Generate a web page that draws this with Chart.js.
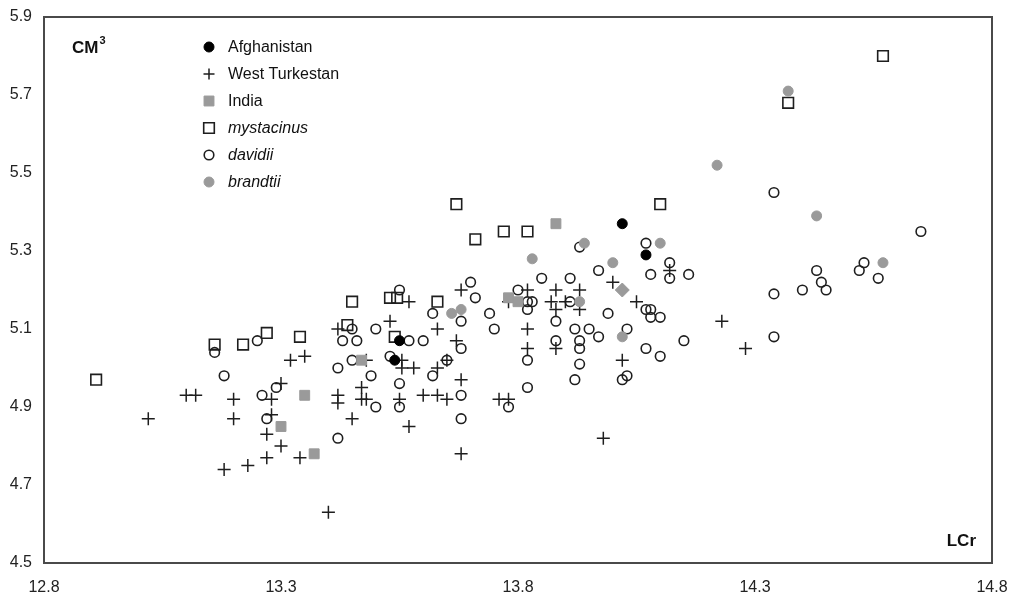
<!DOCTYPE html>
<html>
<head>
<meta charset="utf-8">
<script src="https://cdn.jsdelivr.net/npm/chart.js@4"></script>
<style>
  html, body { margin: 0; padding: 0; background: #fff; }
  #wrap { width: 1016px; height: 597px; }
</style>
</head>
<body>
<div id="wrap"><canvas id="cmChart" width="1016" height="597"></canvas></div>
<script>
// Trục
const xTicks = [12.8, 13.3, 13.8, 14.3, 14.8];
const yTicks = [4.5, 4.7, 4.9, 5.1, 5.3, 5.5, 5.7, 5.9];

// Afghanistan
const afghanX = [13.55, 13.54, 14.02, 14.07];
const afghanY = [5.07, 5.02, 5.37, 5.29];

// West Turkestan
const turkX = [13.02, 13.10, 13.12, 13.18, 13.20, 13.20, 13.23, 13.27, 13.27, 13.28,
  13.28, 13.30, 13.30, 13.32, 13.34, 13.35, 13.40, 13.42, 13.42, 13.42,
  13.45, 13.47, 13.47, 13.48, 13.48, 13.53, 13.555, 13.555, 13.55, 13.57,
  13.57, 13.58, 13.60, 13.63, 13.63, 13.63, 13.65, 13.65, 13.67, 13.68,
  13.68, 13.68, 13.76, 13.78, 13.78, 13.82, 13.82, 13.82, 13.87, 13.88,
  13.88, 13.88, 13.90, 13.93, 13.93, 13.98, 14.00, 14.02, 14.05, 14.12,
  14.23, 14.28];
const turkY = [4.87, 4.93, 4.93, 4.74, 4.92, 4.87, 4.75, 4.77, 4.83, 4.92,
  4.88, 4.80, 4.96, 5.02, 4.77, 5.03, 4.63, 5.10, 4.93, 4.91,
  4.87, 4.95, 4.92, 4.92, 5.02, 5.12, 5.02, 5.00, 4.92, 5.17,
  4.85, 5.00, 4.93, 4.93, 5.10, 5.00, 4.92, 5.02, 5.07, 5.20,
  4.97, 4.78, 4.92, 4.92, 5.17, 5.20, 5.10, 5.05, 5.17, 5.20,
  5.15, 5.05, 5.17, 5.20, 5.15, 4.82, 5.22, 5.02, 5.17, 5.25,
  5.12, 5.05];

// India (điểm cuối vẽ hình thoi)
const indiaX = [13.30, 13.35, 13.37, 13.47, 13.78, 13.80, 13.88, 14.02];
const indiaY = [4.85, 4.93, 4.78, 5.02, 5.18, 5.17, 5.37, 5.20];
const indiaStyle = ['rect', 'rect', 'rect', 'rect', 'rect', 'rect', 'rect', 'rectRot'];

// mystacinus
const mystX = [12.91, 13.16, 13.22, 13.27, 13.34, 13.44, 13.45, 13.53, 13.545, 13.54,
  13.63, 13.67, 13.71, 13.77, 13.82, 14.10, 14.37, 14.57];
const mystY = [4.97, 5.06, 5.06, 5.09, 5.08, 5.11, 5.17, 5.18, 5.18, 5.08,
  5.17, 5.42, 5.33, 5.35, 5.35, 5.42, 5.68, 5.80];

// davidii
const davX = [13.16, 13.18, 13.25, 13.26, 13.27, 13.29, 13.42, 13.42, 13.43, 13.45,
  13.45, 13.46, 13.49, 13.50, 13.50, 13.53, 13.55, 13.55, 13.55, 13.57,
  13.60, 13.62, 13.62, 13.65, 13.68, 13.68, 13.68, 13.68, 13.70, 13.71,
  13.74, 13.75, 13.78, 13.80, 13.82, 13.82, 13.82, 13.82, 13.83, 13.85,
  13.88, 13.88, 13.91, 13.91, 13.92, 13.92, 13.93, 13.93, 13.93, 13.93,
  13.95, 13.97, 13.97, 13.99, 14.02, 14.03, 14.03, 14.07, 14.07, 14.07,
  14.08, 14.08, 14.08, 14.10, 14.10, 14.12, 14.12, 14.15, 14.16, 14.34,
  14.34, 14.34, 14.40, 14.43, 14.44, 14.45, 14.52, 14.53, 14.56, 14.65];
const davY = [5.04, 4.98, 5.07, 4.93, 4.87, 4.95, 5.00, 4.82, 5.07, 5.10,
  5.02, 5.07, 4.98, 5.10, 4.90, 5.03, 5.20, 4.96, 4.90, 5.07,
  5.07, 5.14, 4.98, 5.02, 5.12, 5.05, 4.93, 4.87, 5.22, 5.18,
  5.14, 5.10, 4.90, 5.20, 5.17, 5.15, 5.02, 4.95, 5.17, 5.23,
  5.12, 5.07, 5.23, 5.17, 5.10, 4.97, 5.31, 5.07, 5.05, 5.01,
  5.10, 5.25, 5.08, 5.14, 4.97, 5.10, 4.98, 5.32, 5.15, 5.05,
  5.24, 5.15, 5.13, 5.13, 5.03, 5.27, 5.23, 5.07, 5.24, 5.45,
  5.19, 5.08, 5.20, 5.25, 5.22, 5.20, 5.25, 5.27, 5.23, 5.35];

// brandtii
const brandX = [13.66, 13.68, 13.83, 13.93, 13.94, 14.00, 14.02, 14.10, 14.22, 14.37, 14.43, 14.57];
const brandY = [5.14, 5.15, 5.28, 5.17, 5.32, 5.27, 5.08, 5.32, 5.52, 5.71, 5.39, 5.27];

const FONT = '"Liberation Sans", Arial, sans-serif';
const INK = '#1e1e1e';
const GREY = '#9a9a9a';

const toPoints = (xs, ys) => xs.map((x, i) => ({ x: x, y: ys[i] }));

// Cấu hình từng nhóm: nhãn, kiểu điểm, màu
const groups = [
  { label: 'Afghanistan', italic: false, style: 'circle', radius: 5, fill: '#000', stroke: '#000', width: 1, order: 0, data: toPoints(afghanX, afghanY) },
  { label: 'West Turkestan', italic: false, style: 'cross', radius: 6.5, fill: 'transparent', stroke: INK, width: 1.5, order: 5, data: toPoints(turkX, turkY) },
  { label: 'India', italic: false, style: indiaStyle, radius: 7, fill: GREY, stroke: GREY, width: 1, order: 2, data: toPoints(indiaX, indiaY) },
  { label: 'mystacinus', italic: true, style: 'rect', radius: 7.5, fill: 'transparent', stroke: INK, width: 1.6, order: 4, data: toPoints(mystX, mystY) },
  { label: 'davidii', italic: true, style: 'circle', radius: 4.8, fill: 'transparent', stroke: INK, width: 1.6, order: 3, data: toPoints(davX, davY) },
  { label: 'brandtii', italic: true, style: 'circle', radius: 5, fill: GREY, stroke: GREY, width: 1, order: 1, data: toPoints(brandX, brandY) },
];

// Khung, chú thích và tên trục
const decorPlugin = {
  id: 'decor',
  afterDraw(chart) {
    const { ctx, chartArea: a } = chart;
    ctx.save();
    ctx.strokeStyle = '#4a4a4a';
    ctx.lineWidth = 2;
    ctx.strokeRect(a.left, a.top, a.right - a.left, a.bottom - a.top);

    // tên trục
    ctx.fillStyle = '#111';
    ctx.textBaseline = 'alphabetic';
    ctx.textAlign = 'left';
    ctx.font = 'bold 17px ' + FONT;
    ctx.fillText('CM', a.left + 28, a.top + 36);
    const cmW = ctx.measureText('CM').width;
    ctx.font = 'bold 11px ' + FONT;
    ctx.fillText('3', a.left + 28 + cmW + 1, a.top + 27);
    ctx.font = 'bold 17px ' + FONT;
    ctx.textAlign = 'right';
    ctx.fillText('LCr', a.right - 16, a.bottom - 17);

    // chú thích
    groups.forEach((g, i) => {
      const cy = a.top + 30 + i * 27;
      const cx = a.left + 165;
      ctx.fillStyle = g.fill;
      ctx.strokeStyle = g.stroke;
      ctx.lineWidth = g.width;
      const st = Array.isArray(g.style) ? g.style[0] : g.style;
      const r = st === 'cross' ? 5.5 : g.radius;
      Chart.helpers.drawPoint(ctx, { pointStyle: st, radius: r, rotation: 0, borderWidth: g.width }, cx, cy);
      ctx.fillStyle = '#111';
      ctx.textAlign = 'left';
      ctx.textBaseline = 'middle';
      ctx.font = (g.italic ? 'italic ' : '') + '16px ' + FONT;
      ctx.fillText(g.label, a.left + 184, cy + 1);
    });
    ctx.restore();
  }
};

const ctx = document.getElementById('cmChart').getContext('2d');
new Chart(ctx, {
  type: 'scatter',
  data: {
    datasets: groups.map((g) => ({
      label: g.label,
      data: g.data,
      order: g.order,
      pointStyle: g.style,
      pointRadius: g.radius,
      pointHoverRadius: g.radius,
      pointBackgroundColor: g.fill,
      pointBorderColor: g.stroke,
      pointBorderWidth: g.width,
      showLine: false,
    })),
  },
  options: {
    responsive: false,
    animation: false,
    devicePixelRatio: 1,
    layout: { padding: { top: 17, right: 24, left: 0, bottom: 0 } },
    plugins: {
      legend: { display: false },
      tooltip: { enabled: false },
    },
    scales: {
      x: {
        type: 'linear',
        min: 12.8,
        max: 14.8,
        grid: { display: false, drawTicks: false },
        border: { display: false },
        ticks: {
          padding: 15,
          color: '#222',
          font: { family: FONT, size: 16 },
          callback: (v) => Number(v).toFixed(1),
        },
        afterBuildTicks: (scale) => { scale.ticks = xTicks.map((v) => ({ value: v })); },
        afterFit: (scale) => {
          scale.height = 34;
          scale.paddingLeft = 0;
          scale.paddingRight = 0;
        },
      },
      y: {
        type: 'linear',
        min: 4.5,
        max: 5.9,
        grid: { display: false, drawTicks: false },
        border: { display: false },
        ticks: {
          padding: 12,
          color: '#222',
          font: { family: FONT, size: 16 },
          callback: (v) => Number(v).toFixed(1),
        },
        afterBuildTicks: (scale) => { scale.ticks = yTicks.map((v) => ({ value: v })); },
        afterFit: (scale) => {
          scale.width = 44;
          scale.paddingTop = 0;
          scale.paddingBottom = 0;
        },
      },
    },
  },
  plugins: [decorPlugin],
});
</script>
</body>
</html>
